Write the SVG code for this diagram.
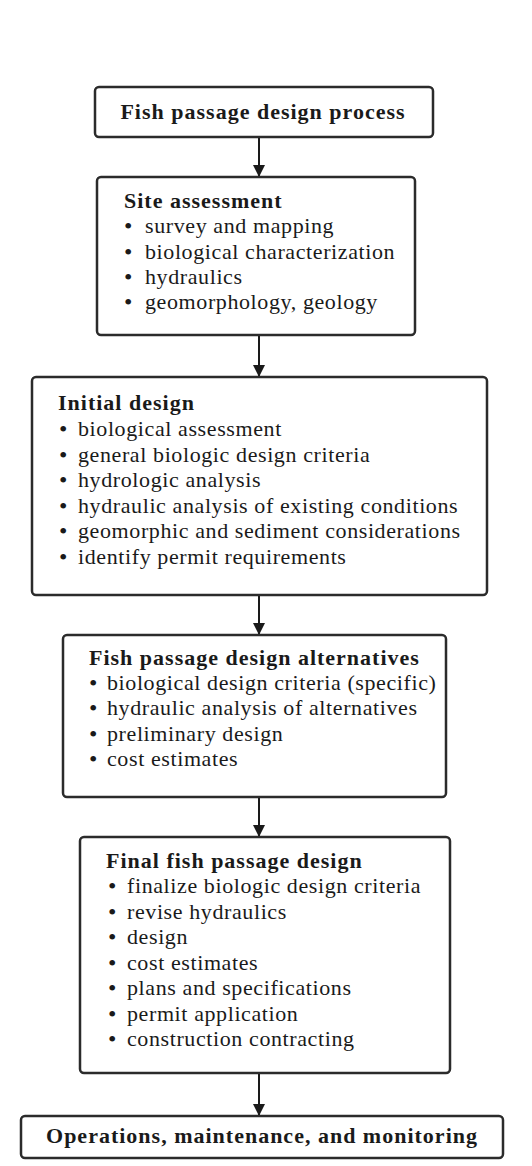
<svg xmlns="http://www.w3.org/2000/svg" width="532" height="1166" viewBox="0 0 532 1166">
<style>
.box{fill:#fff;stroke:#2b2b2b;stroke-width:2.5}
.t{font-family:"Liberation Serif","Times New Roman",serif;font-size:22px;font-weight:bold;letter-spacing:1px;fill:#1a1a1a}
.i{font-family:"Liberation Serif","Times New Roman",serif;font-size:22px;letter-spacing:0.6px;fill:#1a1a1a}
.b{font-family:"Liberation Serif","Times New Roman",serif;font-size:24px;fill:#1a1a1a}
.c{stroke:#1a1a1a;stroke-width:2;fill:none}
</style>
<defs>
<marker id="ah" viewBox="0 0 12 12" refX="12" refY="6" markerWidth="12" markerHeight="12" markerUnits="userSpaceOnUse" orient="auto">
<path d="M0,0 L12,6 L0,12 Z" fill="#1a1a1a"/>
</marker>
</defs>
<rect width="532" height="1166" fill="#fff"/>
<g id="connectors">
<line class="c" x1="259" y1="137" x2="259" y2="177" marker-end="url(#ah)"/>
<line class="c" x1="259" y1="335" x2="259" y2="377" marker-end="url(#ah)"/>
<line class="c" x1="259" y1="595" x2="259" y2="635" marker-end="url(#ah)"/>
<line class="c" x1="259" y1="797" x2="259" y2="837" marker-end="url(#ah)"/>
<line class="c" x1="259" y1="1073" x2="259" y2="1116" marker-end="url(#ah)"/>
</g>
<g id="n1">
<rect class="box" x="95" y="87" width="338" height="50" rx="4"/>
<text class="t" x="263" y="119" text-anchor="middle">Fish passage design process</text>
</g>
<g id="n2">
<rect class="box" x="97" y="177" width="318" height="158" rx="4"/>
<text class="t" x="124" y="208">Site assessment</text>
<text class="b" x="124" y="234">•</text><text class="i" x="145" y="233">survey and mapping</text>
<text class="b" x="124" y="260">•</text><text class="i" x="145" y="259">biological characterization</text>
<text class="b" x="124" y="285">•</text><text class="i" x="145" y="284">hydraulics</text>
<text class="b" x="124" y="310">•</text><text class="i" x="145" y="309">geomorphology, geology</text>
</g>
<g id="n3">
<rect class="box" x="32" y="377" width="455" height="218" rx="4"/>
<text class="t" x="58" y="410">Initial design</text>
<text class="b" x="59" y="437">•</text><text class="i" x="78" y="436">biological assessment</text>
<text class="b" x="59" y="463">•</text><text class="i" x="78" y="462">general biologic design criteria</text>
<text class="b" x="59" y="488">•</text><text class="i" x="78" y="487">hydrologic analysis</text>
<text class="b" x="59" y="514">•</text><text class="i" x="78" y="513">hydraulic analysis of existing conditions</text>
<text class="b" x="59" y="539">•</text><text class="i" x="78" y="538">geomorphic and sediment considerations</text>
<text class="b" x="59" y="565">•</text><text class="i" x="78" y="564">identify permit requirements</text>
</g>
<g id="n4">
<rect class="box" x="63" y="635" width="383" height="162" rx="4"/>
<text class="t" x="89" y="665">Fish passage design alternatives</text>
<text class="b" x="89" y="691">•</text><text class="i" x="107" y="690">biological design criteria (specific)</text>
<text class="b" x="89" y="716">•</text><text class="i" x="107" y="715">hydraulic analysis of alternatives</text>
<text class="b" x="89" y="742">•</text><text class="i" x="107" y="741">preliminary design</text>
<text class="b" x="89" y="767">•</text><text class="i" x="107" y="766">cost estimates</text>
</g>
<g id="n5">
<rect class="box" x="80" y="837" width="370" height="236" rx="4"/>
<text class="t" x="106" y="868">Final fish passage design</text>
<text class="b" x="108" y="894">•</text><text class="i" x="127" y="893">finalize biologic design criteria</text>
<text class="b" x="108" y="920">•</text><text class="i" x="127" y="919">revise hydraulics</text>
<text class="b" x="108" y="945">•</text><text class="i" x="127" y="944">design</text>
<text class="b" x="108" y="971">•</text><text class="i" x="127" y="970">cost estimates</text>
<text class="b" x="108" y="996">•</text><text class="i" x="127" y="995">plans and specifications</text>
<text class="b" x="108" y="1022">•</text><text class="i" x="127" y="1021">permit application</text>
<text class="b" x="108" y="1047">•</text><text class="i" x="127" y="1046">construction contracting</text>
</g>
<g id="n6">
<rect class="box" x="21" y="1116" width="482" height="42" rx="4"/>
<text class="t" x="262" y="1143" text-anchor="middle">Operations, maintenance, and monitoring</text>
</g>
</svg>
